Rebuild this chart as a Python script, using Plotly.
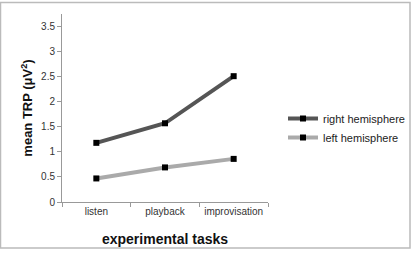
import plotly.graph_objects as go

categories = ["listen", "playback", "improvisation"]
right_hemisphere = [1.18, 1.57, 2.51]
left_hemisphere = [0.47, 0.69, 0.86]
y_ticks = [0, 0.5, 1, 1.5, 2, 2.5, 3, 3.5]
y_tick_labels = ["0", "0.5", "1", "1.5", "2", "2.5", "3", "3.5"]

FONT = "Liberation Sans, Arial, sans-serif"

fig = go.Figure()
fig.add_trace(go.Scatter(
    x=categories, y=right_hemisphere, name="right hemisphere",
    mode="lines+markers",
    line=dict(color="#555555", width=4),
    marker=dict(symbol="square", size=6, color="#000000"),
))
fig.add_trace(go.Scatter(
    x=categories, y=left_hemisphere, name="left hemisphere",
    mode="lines+markers",
    line=dict(color="#aaaaaa", width=4),
    marker=dict(symbol="square", size=6, color="#000000"),
))

L, R, T, B = 62, 150, 14, 53
W, H = 418, 255
pw, ph = W - L - R, H - T - B

def px_x(p):
    return (p - L) / pw

def px_y(p):
    return (H - B - p) / ph

fig.update_layout(
    width=W, height=H,
    margin=dict(l=L, r=R, t=T, b=B, pad=0, autoexpand=False),
    paper_bgcolor="white", plot_bgcolor="white",
    font=dict(family=FONT, size=10, color="#333333"),
    showlegend=True,
    legend=dict(
        x=px_x(283), y=px_y(104), xanchor="left", yanchor="top",
        font=dict(size=11, color="#222222"),
        itemwidth=30, tracegroupgap=0,
        bgcolor="rgba(0,0,0,0)",
    ),
    xaxis=dict(
        type="category", range=[-0.5, 2.5],
        automargin=False, tickangle=0,
        showline=True, linecolor="#999999", linewidth=1,
        ticks="outside", tickson="boundaries", ticklen=4, tickcolor="#999999",
        showgrid=False, zeroline=False,
        tickfont=dict(size=10, color="#333333"),
        title=dict(text="<b>experimental tasks</b>", font=dict(size=14, color="#111111"), standoff=18),
    ),
    yaxis=dict(
        range=[0, 3.75], automargin=False,
        tickvals=y_ticks, ticktext=y_tick_labels,
        showline=True, linecolor="#999999", linewidth=1,
        ticks="outside", ticklen=4, tickcolor="#999999",
        showgrid=False, zeroline=False,
        tickfont=dict(size=10, color="#333333"),
        title=dict(text="<b>mean TRP (μV<sup>2</sup>)</b>", font=dict(size=13, color="#111111"), standoff=5),
    ),
)

fig.add_shape(
    type="rect", xref="paper", yref="paper",
    x0=px_x(0.5), x1=px_x(410), y0=px_y(248), y1=px_y(2.5),
    line=dict(color="#bbbbbb", width=1.5), fillcolor="rgba(0,0,0,0)", layer="below",
)

fig.write_html("out.html")
